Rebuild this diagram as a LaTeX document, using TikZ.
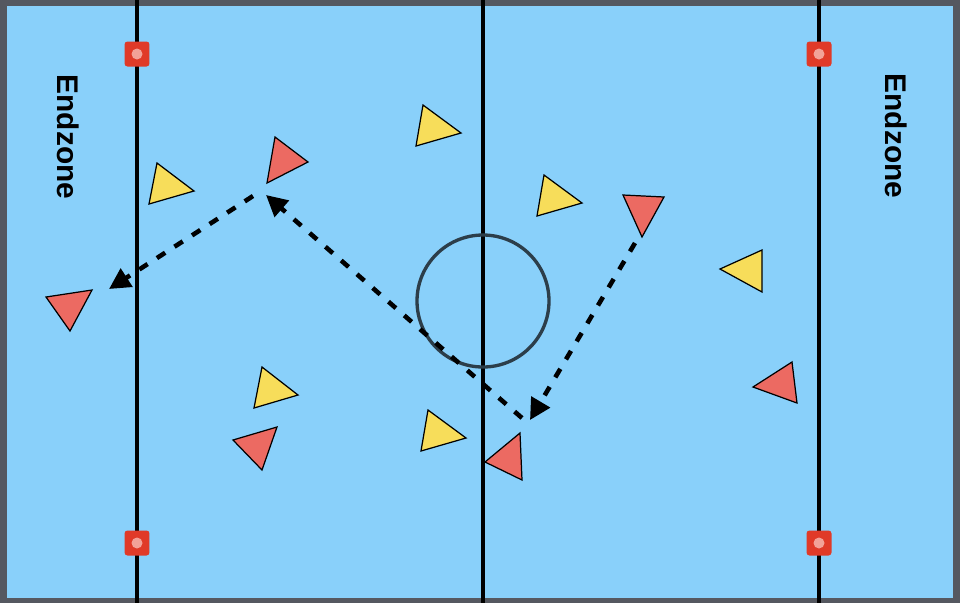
\documentclass[tikz,border=0pt]{standalone}
\usepackage{fontspec}
\setmainfont{Liberation Sans}
\usetikzlibrary{arrows.meta}

\definecolor{fieldblue}{RGB}{137,208,250}
\definecolor{rimgrey}{RGB}{85,88,96}
\definecolor{yellowteam}{RGB}{247,221,90}
\definecolor{redteam}{RGB}{236,106,98}
\definecolor{conered}{RGB}{224,58,40}
\definecolor{conedot}{RGB}{242,162,152}
\definecolor{ringgrey}{RGB}{44,62,74}

\begin{document}
\begin{tikzpicture}
  [x=0.02cm,y=-0.02cm,
   line/.style={line width=2pt,black},
   cone/.style={rectangle,rounded corners=1.7pt,fill=conered,minimum size=0.5cm,inner sep=0pt},
   conedotstyle/.style={circle,fill=conedot,minimum size=0.22cm,inner sep=0pt},
   endzone/.style={rotate=-90,inner sep=0pt,font=\fontsize{17}{20}\selectfont\bfseries},
   yplayer/.style={fill=yellowteam,draw=black,line width=0.7pt,line join=miter},
   rplayer/.style={fill=redteam,draw=black,line width=0.7pt,line join=miter},
   pass/.style={line width=2.6pt,dash pattern=on 5.6pt off 6.3pt,-{Triangle[length=12pt,width=12pt]}}]
  \useasboundingbox (0,0) rectangle (960,603);

  % field
  \fill[rimgrey] (0,0) rectangle (960,603);
  \fill[fieldblue] (7,6) rectangle (953,598);

  \foreach \x in {137,483,819}
    \draw[line] (\x,0) -- (\x,603);

  \draw[ringgrey,line width=1.9pt] (483,301) circle (66);

  % cones
  \foreach \x/\y [count=\i] in {137/54,819/54,137/543,819/543} {
    \node[cone] (cone\i) at (\x,\y) {};
    \node[conedotstyle] at (cone\i) {};
  }

  \node[endzone] (ezleft) at (68,137) {Endzone};
  \node[endzone] (ezright) at (896,136) {Endzone};

  % players
  \foreach \ax/\ay/\bx/\by/\cx/\cy in
    {149/204/157/163/194/191, 262/367/298/395/254/408, 423/105/461/133/416/146,
     544/175/582/203/537/216, 428/410/466/438/421/451, 762/250/762/292/720/269}
    \draw[yplayer] (\ax,\ay) -- (\bx,\by) -- (\cx,\cy) -- cycle;

  \foreach \ax/\ay/\bx/\by/\cx/\cy in
    {267/183/275/137/308/162, 46/297/92/290/70/331, 233/440/277/427/262/470,
     623/195/664/197/642/237, 520/433/522/480/485/462, 792/362/797/403/753/387}
    \draw[rplayer] (\ax,\ay) -- (\bx,\by) -- (\cx,\cy) -- cycle;

  % passes and cuts
  \coordinate (p1) at (253,196);
  \coordinate (p2) at (109,289);
  \coordinate (c1) at (522,418);
  \coordinate (c2) at (266,195);
  \coordinate (c3) at (635,243);
  \coordinate (c4) at (530,420);

  \foreach \from/\to in {p1/p2,c1/c2,c3/c4}
    \draw[pass] (\from) -- (\to);

\end{tikzpicture}
\end{document}
